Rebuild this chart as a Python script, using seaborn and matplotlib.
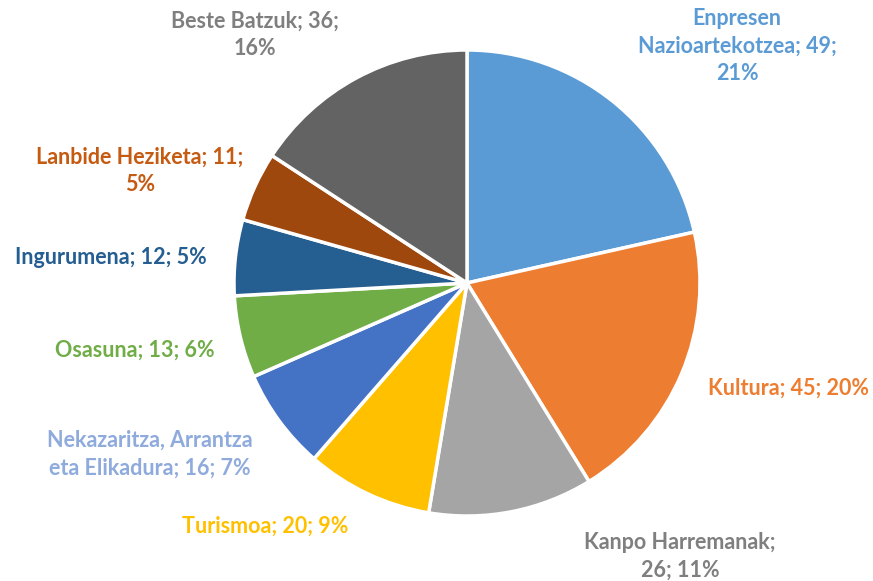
import matplotlib.pyplot as plt
import seaborn as sns

# data
categories = ["Enpresen\nNazioartekotzea", "Kultura", "Kanpo Harremanak", "Turismoa",
              "Nekazaritza, Arrantza\neta Elikadura", "Osasuna", "Ingurumena",
              "Lanbide Heziketa", "Beste Batzuk"]
values = [49, 45, 26, 20, 16, 13, 12, 11, 36]
pcts = [21, 20, 11, 9, 7, 6, 5, 5, 16]
label_texts = ["Enpresen\nNazioartekotzea; 49;\n21%", "Kultura; 45; 20%",
               "Kanpo Harremanak;\n26; 11%", "Turismoa; 20; 9%",
               "Nekazaritza, Arrantza\neta Elikadura; 16; 7%", "Osasuna; 13; 6%",
               "Ingurumena; 12; 5%", "Lanbide Heziketa; 11;\n5%", "Beste Batzuk; 36;\n16%"]

colors = ["#5B9BD5", "#ED7D31", "#A5A5A5", "#FFC000", "#4472C4",
          "#70AD47", "#255E91", "#9E480E", "#636363"]
label_colors = ["#5B9BD5", "#ED7D31", "#7F7F7F", "#FFC000", "#8FAADC",
                "#70AD47", "#255E91", "#C55A11", "#7F7F7F"]
# label centres in pixel coords (x, y from top)
label_pos = [(737, 46), (789, 388), (680, 556), (265, 526), (150, 454),
             (135, 350), (111, 257), (140, 171), (255, 35)]

sns.set_theme(style="white")
plt.rcParams['font.family'] = ['Lato', 'DejaVu Sans']

W, H = 873, 581
fig = plt.figure(figsize=(W / 100, H / 100), dpi=100)
ax = fig.add_axes([0, 0, 1, 1])

ax.pie(values, colors=colors, startangle=90, counterclock=False,
       center=(467, H - 283), radius=233,
       wedgeprops=dict(edgecolor="white", linewidth=2.5))

ax.set_xlim(0, W)
ax.set_ylim(0, H)
ax.set_aspect("equal")
ax.axis("off")

for txt, (x, y), c in zip(label_texts, label_pos, label_colors):
    ax.text(x, H - y, txt, color=c, fontsize=15.5, fontweight="bold",
            ha="center", va="center", linespacing=1.38)

fig.savefig("out.png", dpi=100)
